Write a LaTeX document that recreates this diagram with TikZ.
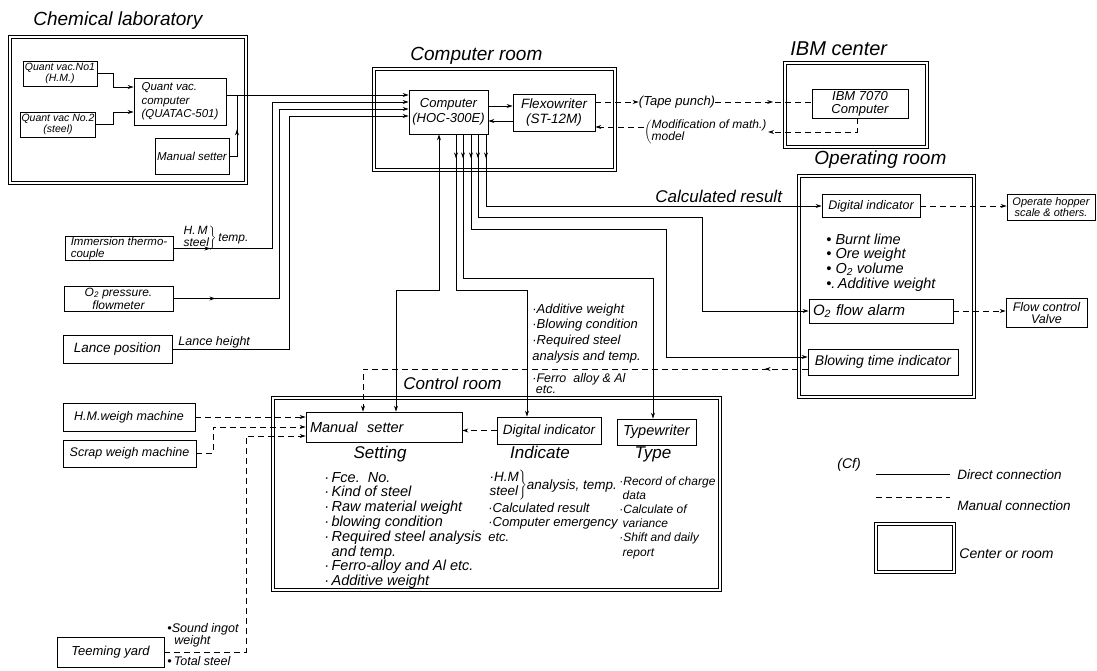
\documentclass[tikz,border=0pt]{standalone}
\usepackage{fontspec}
\setmainfont{Liberation Sans}
\usetikzlibrary{arrows.meta,decorations.markings}
\newcommand\myfs[2]{\fontsize{#1}{#2}\selectfont\itshape}
\begin{document}
\begin{tikzpicture}[x=1pt,y=-1pt,>={Stealth[length=6pt,width=4pt]},line width=0.8pt,
 box/.style={draw,inner sep=1pt,align=center},
 room/.style={draw,double,double distance=2.2pt,line width=0.6pt,inner sep=0pt},
 manl/.style={dash pattern=on 6pt off 4pt},
 lbl/.style={inner sep=0pt,align=left},
 arrat/.style={postaction={decorate},decoration={markings,mark=at position #1 with {\arrow{Stealth[length=6pt,width=4pt]}}}}]
\useasboundingbox (0,0) rectangle (1097,670);
\fill[white] (0,0) rectangle (1097,670);

% rooms
\node[room,minimum width=236pt,minimum height=146pt] (chemlab) at (128,110) {};
\node[room,minimum width=241pt,minimum height=101pt] (comproom) at (494.5,119.5) {};
\node[room,minimum width=142pt,minimum height=84pt] (ibmroom) at (856,105) {};
\node[room,minimum width=175pt,minimum height=221pt] (oproom) at (886.5,286.5) {};
\node[room,minimum width=447pt,minimum height=192pt] (ctrlroom) at (496.5,494) {};

% titles
\node[lbl,font=\myfs{19}{20},anchor=base west] (tchem) at (33,25) {Chemical laboratory};
\node[lbl,font=\myfs{19}{20},anchor=base west] (tcomp) at (410,60) {Computer room};
\node[lbl,font=\myfs{20}{20},anchor=base west] (tibm) at (790,55) {IBM center};
\node[lbl,font=\myfs{19}{20},anchor=base west] (top) at (814,164) {Operating room};
\node[lbl,font=\myfs{17}{17},anchor=base west] (tctrl) at (403,389) {Control room};
\node[lbl,font=\myfs{17}{17},anchor=base west] (tcalc) at (655,202) {Calculated result};

% chemical laboratory
\node[box,minimum width=74pt,minimum height=25pt,font=\myfs{10.5}{11}] (qv1) at (60,73.5) {Quant vac.No1\\(H.M.)};
\node[box,minimum width=72pt,minimum height=25pt,font=\myfs{10.5}{11}] (qv2) at (58,124.5) {Quant vac No.2\\(steel)};
\node[box,minimum width=92pt,minimum height=47pt,font=\myfs{11.5}{13.5},align=left] (quatac) at (180,101.5) {Quant vac.\\computer\\(QUATAC-501)};
\node[box,minimum width=74pt,minimum height=36pt,font=\myfs{11.5}{13}] (mset1) at (192,156) {Manual setter};

% computer room
\node[box,minimum width=79pt,minimum height=44pt,font=\myfs{13}{15}] (computer) at (448.5,112) {Computer\\(HOC-300E)};
\node[box,minimum width=82pt,minimum height=37pt,font=\myfs{13.5}{15}] (flexo) at (554,112.5) {Flexowriter\\(ST-12M)};

% IBM
\node[box,minimum width=96pt,minimum height=29pt,font=\myfs{13}{13}] (ibm) at (860,103.5) {IBM 7070\\Computer};
\node[lbl,font=\myfs{13}{15}] (tape) at (677,102) {(Tape punch)};
\node[lbl,font=\myfs{12}{10.5}] (mod) at (706,132) {$\left(\begin{tabular}{@{}l@{}}Modification of math.)\\model\end{tabular}\right.$};

% operating room
\node[box,minimum width=98pt,minimum height=23pt,font=\myfs{12.5}{13}] (dind1) at (871,206) {Digital indicator};
\node[lbl,font=\myfs{14.5}{14.3},anchor=base west] (oplist) at (826,244) {\begin{tabular}[t]{@{}l@{}}•\ Burnt lime\\•\ Ore weight\\•\ O\textsubscript{2} volume\\•.\,Additive weight\end{tabular}};
\node[box,minimum width=144pt,text width=136pt,inner sep=4pt,minimum height=24pt,align=left,font=\myfs{15}{15}] (o2alarm) at (881,311) {O\textsubscript{2} flow alarm};
\node[box,minimum width=150pt,minimum height=26pt,font=\myfs{14}{14}] (blowind) at (883,362) {Blowing time indicator};
\node[box,minimum width=88pt,minimum height=26pt,font=\myfs{11}{11.5}] (hopper) at (1051,207) {Operate hopper\\scale \& others.};
\node[box,minimum width=81pt,minimum height=29pt,font=\myfs{12.5}{12}] (flowvalve) at (1046.5,313) {Flow control\\Valve};

% left inputs
\node[box,minimum width=108pt,minimum height=23pt,font=\myfs{11.5}{11.5},align=left] (thermo) at (119,248.5) {Immersion thermo-\\couple};
\node[box,minimum width=109pt,minimum height=25pt,font=\myfs{12}{13}] (o2press) at (118.5,298.5) {O\textsubscript{2} pressure.\\flowmeter};
\node[box,minimum width=109pt,minimum height=28pt,font=\myfs{13.5}{15}] (lance) at (117.5,349) {Lance position};
\node[lbl,font=\myfs{12}{11},anchor=base west] (hmsteel) at (182,241) {$\left.\begin{tabular}{@{}l@{}}H.\,M\\steel\end{tabular}\right\}$\,temp.};
\node[lbl,font=\myfs{12.5}{14},anchor=base west] (lh) at (178,345) {Lance height};

\node[box,minimum width=132pt,minimum height=28pt,font=\myfs{12.5}{14}] (hmweigh) at (129,417) {H.M.weigh machine};
\node[box,minimum width=133pt,minimum height=27pt,font=\myfs{12.5}{14}] (scrap) at (129.5,453.5) {Scrap weigh machine};
\node[box,minimum width=107pt,minimum height=30pt,font=\myfs{13}{14}] (teeming) at (110.5,652) {Teeming yard};
\node[lbl,font=\myfs{12.5}{12},anchor=base west] (sound) at (167,632) {\begin{tabular}[t]{@{}l@{}}•Sound ingot\\\ \ weight\end{tabular}};
\node[lbl,font=\myfs{12.5}{12},anchor=base west] (total) at (167,665) {•\,Total steel};

% control room
\node[box,minimum width=156pt,text width=148pt,inner sep=4pt,minimum height=30pt,align=left,font=\myfs{14.5}{15}] (mset2) at (384,427) {Manual\ \ setter};
\node[box,minimum width=104pt,minimum height=27pt,font=\myfs{13.5}{14}] (dind2) at (549,430.5) {Digital indicator};
\node[box,minimum width=79pt,minimum height=26pt,font=\myfs{14.5}{15}] (typew) at (656.5,432) {Typewriter};
\node[lbl,font=\myfs{17}{17},anchor=base] (hset) at (380,458) {Setting};
\node[lbl,font=\myfs{17}{17},anchor=base] (hind) at (540,458) {Indicate};
\node[lbl,font=\myfs{17}{17},anchor=base] (htype) at (653,458) {Type};
\node[lbl,font=\myfs{14.5}{14.4},anchor=base west] (setlist) at (324,482) {\begin{tabular}[t]{@{}l@{}}·\,Fce.\ \ No.\\·\,Kind of steel\\·\,Raw material weight\\·\,blowing condition\\·\,Required steel analysis\\\phantom{·\,}and temp.\\·\,Ferro-alloy and Al etc.\\·\,Additive weight\end{tabular}};
\node[lbl,font=\myfs{13.5}{13.5},anchor=base west] (ind1) at (488,489) {$\left.\begin{tabular}{@{}l@{}}·H.M\\steel\end{tabular}\right\}$analysis, temp.};
\node[lbl,font=\myfs{13}{14.5},anchor=base west] (ind2) at (488,512) {\begin{tabular}[t]{@{}l@{}}·Calculated result\\·Computer emergency\\etc.\end{tabular}};
\node[lbl,font=\myfs{12}{14.2},anchor=base west] (typelist) at (619,485) {\begin{tabular}[t]{@{}l@{}}·Record of charge\\\ data\\·Calculate of\\\ variance\\·Shift and daily\\\ report\end{tabular}};

% notes between
\node[lbl,font=\myfs{13}{15.7},anchor=base west] (notes) at (532,313) {\begin{tabular}[t]{@{}l@{}}·Additive weight\\·Blowing condition\\·Required steel\\analysis and temp.\end{tabular}};
\node[lbl,font=\myfs{12.5}{10},anchor=base west] (ferro) at (532,382) {\begin{tabular}[t]{@{}l@{}}·Ferro\ \ alloy \& Al\\\ etc.\end{tabular}};

% legend
\node[lbl,font=\myfs{14}{14},anchor=base west] (cf) at (837,468) {(Cf)};
\coordinate (l1a) at (876,474); \coordinate (l1b) at (950,474);
\draw (l1a) -- (l1b);
\node[lbl,font=\myfs{13.5}{14},anchor=base west] (ldirect) at (957,479) {Direct connection};
\coordinate (l2a) at (876,497); \coordinate (l2b) at (950,497);
\draw[manl] (l2a) -- (l2b);
\node[lbl,font=\myfs{13.5}{14},anchor=base west] (lmanual) at (957,510) {Manual connection};
\node[room,minimum width=78pt,minimum height=48pt] (lbox) at (915,548) {};
\node[lbl,font=\myfs{14}{14},anchor=base west] (lcenter) at (959,558) {Center or room};

% ---------- connectors ----------
\coordinate (c1) at (113,87); \coordinate (c2) at (113,112);
\draw[->] (qv1.east) -| (c1) -- (quatac.west |- c1);
\draw[->] (qv2.east) -| (c2) -- (quatac.west |- c2);
\coordinate (h95) at (0,95);
\draw[->] (quatac.east |- h95) -- (computer.west |- h95);
\coordinate (j1) at (237,95);
\draw[arrat=0.5] (mset1.east) -| (j1);
\coordinate (b2) at (272,102); \coordinate (b3) at (279,109); \coordinate (b4) at (289,116);
\draw[->,arrat=37pt] (thermo.east) -| (b2) -- (computer.west |- b2);
\draw[->,arrat=42pt] (o2press.east) -| (b3) -- (computer.west |- b3);
\draw[->] (lance.east) -| (b4) -- (computer.west |- b4);

\coordinate (h106) at (0,106); \coordinate (h121) at (0,121);
\draw[->] (computer.east |- h106) -- (flexo.west |- h106);
\draw[->] (flexo.west |- h121) -- (computer.east |- h121);

\draw[manl,->] (flexo.east |- tape.west) -- (tape.west);
\draw[manl,arrat=0.6] (tape.east) -- (tape.east -| ibm.west);
\coordinate (x857) at (857,0);
\draw[manl,->] (ibm.south -| x857) |- (mod.east);
\coordinate (h127) at (0,127);
\draw[manl,->] (mod.west |- h127) -- (flexo.east |- h127);

\coordinate (x439) at (439,290); \coordinate (x396) at (396,290);
\draw[<->] (computer.south -| x439) -- (x439) -- (x396) -- (mset2.north -| x396);
\coordinate (p456) at (456,290); \coordinate (p527) at (527,290);
\draw[->,arrat=24pt] (computer.south -| p456) -- (p456) -- (p527) -- (dind2.north -| p527);
\coordinate (p463) at (463,278); \coordinate (p653) at (653,278);
\draw[->,arrat=24pt] (computer.south -| p463) -- (p463) -- (p653) -- (typew.north -| p653);
\coordinate (p471) at (471,229); \coordinate (p666) at (666,229); \coordinate (q666) at (666,357);
\draw[->,arrat=24pt] (computer.south -| p471) -- (p471) -- (p666) -- (q666) -- (blowind.west |- q666);
\coordinate (p478) at (478,217); \coordinate (p702) at (702,217);
\draw[->,arrat=24pt] (computer.south -| p478) -- (p478) -- (p702) |- (o2alarm.west);
\coordinate (p486) at (486,206);
\draw[->,arrat=24pt] (computer.south -| p486) |- (dind1.west);

\coordinate (h369) at (0,369); \coordinate (x363) at (363,369);
\draw[manl,->,arrat=43pt] (blowind.west |- h369) -- (x363) -- (mset2.north -| x363);
\draw[manl,->] (dind2.west) -- (dind2.west -| mset2.east);

\draw[manl,->] (hmweigh.east) -- (hmweigh.east -| mset2.west);
\coordinate (s1) at (213,427);
\draw[manl,->] (scrap.east) -| (s1) -- (mset2.west);
\coordinate (t1) at (246,436);
\draw[manl,->] (teeming.east) -| (t1) -- (t1 -| mset2.west);

\draw[manl,->] (dind1.east) -- (dind1.east -| hopper.west);
\draw[manl,->] (o2alarm.east) -- (o2alarm.east -| flowvalve.west);
\end{tikzpicture}
\end{document}
